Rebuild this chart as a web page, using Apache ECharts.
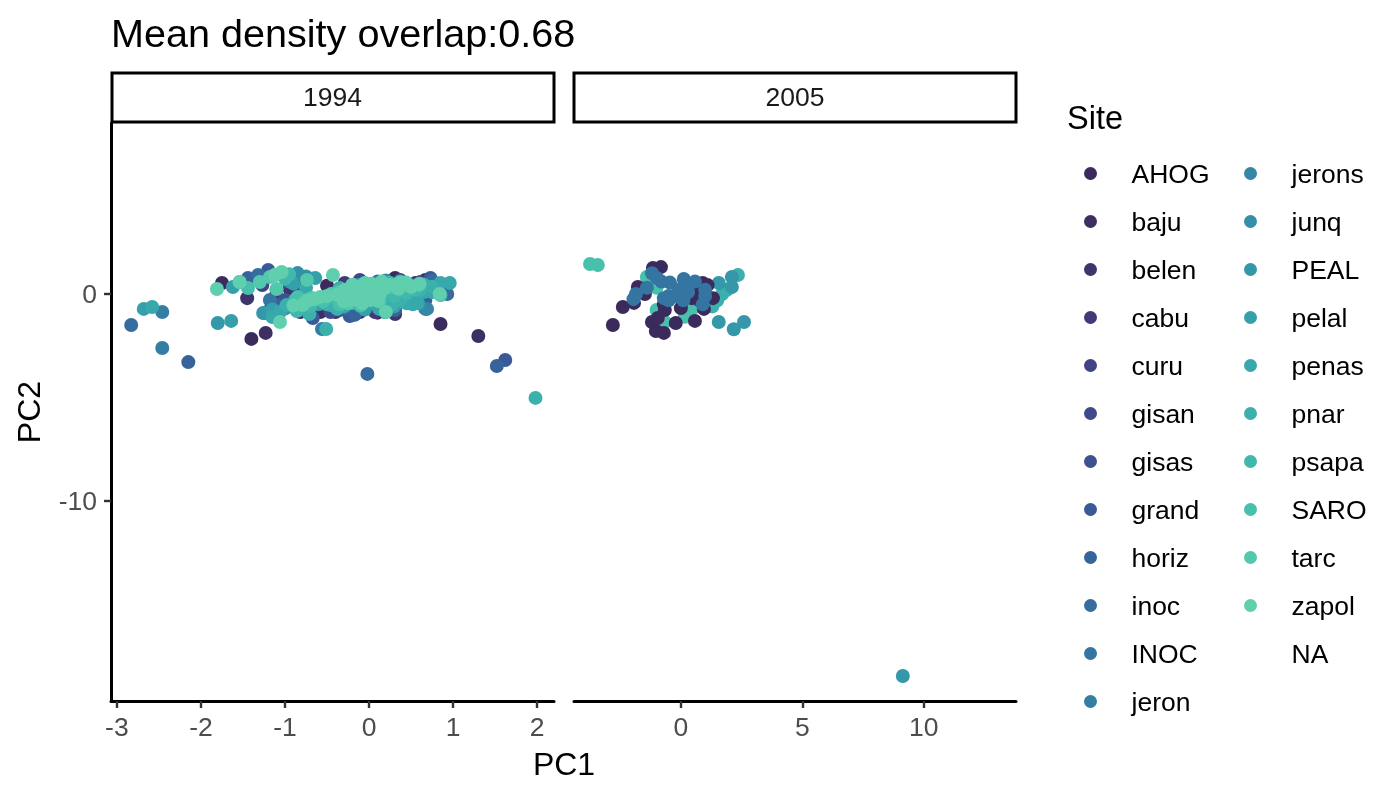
<!DOCTYPE html>
<html><head><meta charset="utf-8">
<script src="https://cdn.jsdelivr.net/npm/echarts@6/dist/echarts.min.js"></script>
<style>html,body{margin:0;padding:0;background:#fff}#c{width:1400px;height:800px}</style>
</head><body><div id="c"></div>
<script>
const sites = ['AHOG','baju','belen','cabu','curu','gisan','gisas','grand','horiz','inoc','INOC','jeron','jerons','junq','PEAL','pelal','penas','pnar','psapa','SARO','tarc','zapol','NA'];
const colors = ['#3b2b5c','#3d2f62','#3f346b','#413a77','#414386','#3f4a8c','#3c5291','#395a96','#37639b','#366c9e','#3575a1','#347ea3','#3487a5','#3490a8','#3498aa','#35a0ab','#37a8ac','#3bb0ad','#40b8ad','#47c0ad','#52c8ad','#60cfad','transparent'];
const xTicks1994 = [-3,-2,-1,0,1,2];
const xTicks2005 = [0,5,10];
const yTicks = [-10,0];
const panels = ['1994','2005'];

const AHOG_1994 = [[-1.75,.53],[-1.40,-2.17],[-1.1,.2],[-.94,.39],[-.23,-.77],[.31,.77],[.67,.68],[-.82,-.87],[.85,-1.45],[-1.18,-.77],[-.5,.4],[.1,-.9]];
const baju_1994 = [[1.30,-2.03],[-1.23,-1.88],[-.58,-.87],[-.11,-.87],[.19,.53],[-.82,.68]];
const belen_1994 = [[-1.45,-.2],[-.94,.2],[-.4,-.87],[.31,-.97],[.55,.53]];
const cabu_1994 = [[-1.11,-.1],[-.68,-.68],[-.29,.53],[.07,-.87]];
const curu_1994 = [[-1.27,.43],[-.76,-.29],[-.2,-1],[.61,.58]];
const gisan_1994 = [[-.79,.1],[-.46,-.87],[-.11,.68]];
const gisas_1994 = [[-1.32,.68],[-1.0,-.29],[-.35,-.77],[.37,.68]];
const grand_1994 = [[-1.2,1.16],[-.67,-1.16],[1.62,-3.19],[-.23,-1.06],[.73,.77],[.19,-.87]];
const horiz_1994 = [[-1.44,.77],[-1.1,-.53],[1.52,-3.48],[-2.15,-3.29],[-.17,-1.0],[.31,-.77],[.67,-.29]];
const inoc_1994 = [[-2.83,-1.5],[-.02,-3.86],[-1.32,.92],[-.82,-.77],[-.29,-.68],[.75,.63],[.93,0]];
const INOC_1994 = [[-1.18,-.29],[-.52,-.29],[-.05,-.29],[.49,-.05],[.1,.6]];
const jeron_1994 = [[-2.46,-.87],[-2.46,-2.61],[-.56,-1.69],[.67,-.72]];
const jerons_1994 = [[-1.24,-.92],[-.94,-.53],[-.23,-.29],[.69,-.72],[.25,.19]];
const junq_1994 = [[-.85,1.01],[-.46,-.29],[.01,-.05],[.43,.19],[-.17,.43],[.2,.65],[-.95,.6],[-.75,.85]];
const PEAL_1994 = [[-1.8,-1.4],[-1.26,-.92],[-.96,.77],[-.35,-.19],[.13,.43],[.55,-.29],[-.1,-.6],[.4,.55],[-1,-.7],[-.7,-.45],[.65,.3]];
const pelal_1994 = [[-2.68,-.72],[-1.62,.34],[-1.64,-1.3],[-.64,.77],[-.82,-.29],[-.29,-.05],[.25,-.29],[.73,.29],[-.6,-.5],[.05,.5],[.3,.1],[-.9,.5],[-1.15,-.75],[-.4,.05],[.2,.1],[.45,-.1],[.3,-.6],[-.05,-.75]];
const penas_1994 = [[-2.58,-.63],[-1.15,-1.11],[-1.06,-.87],[-.46,-.53],[-.11,.43],[.49,.43],[.5,-.43],[.85,.53],[.96,.53],[.4,-.3],[-.3,-.6],[.65,.1],[.15,-.6],[.58,-.45],[-.9,-.6],[-.75,.3],[-.2,-.45],[.35,.35],[.55,.15],[.75,.1],[.05,-.45],[.52,-.5],[.45,-.45],[.12,-.72]];
const pnar_1994 = [[1.98,-5.02],[-.71,-.97],[-.51,-1.69],[-.98,-.53],[-.35,.29],[.07,.19],[.61,.19],[.19,-.29],[.37,-.3],[-.6,-.2],[-.1,-.5],[.3,.4],[.75,.35],[-.85,-.45],[-.5,-.5],[.1,-.35],[.25,.05],[.48,.4],[.65,.45],[.28,-.5],[-.38,-.72]];
const psapa_1994 = [[-.88,-.29],[-.86,-.82],[-.23,.1],[.25,.53],[.85,-.05],[-1.54,.58],[-.17,-.39],[-1.0,.75],[-.95,.95],[.05,-.1],[-.45,-.2],[.45,.05],[-.7,-.6],[-.05,-.35],[.3,-.1],[.55,.2]];
const SARO_1994 = [[-1.44,.29],[-1.12,.92],[-.3,-.3],[.1,.15],[-.55,-.35],[.5,.3],[-.85,-.15],[-.12,.35],[.28,.3],[-.35,-.5],[-.1,-.55]];
const tarc_1994 = [[-.74,.68],[-1.3,.58],[-1.18,.82],[-1.1,.24],[-.68,-.19],[-.35,.1],[.6,.45],[-.1,.1],[.2,.3],[-.75,-.3],[-.45,.0],[-.2,.3],[.1,.4],[.12,-.35],[-.25,-.45]];
const zapol_1994 = [[-1.81,.24],[-1.54,.58],[-1.04,1.06],[-1.12,.92],[-.43,.92],[-1.06,-1.35],[-.79,-.53],[-.58,-.14],[-.38,-.05],[-.29,.19],[-.17,-.14],[-.05,.53],[.07,.29],[.2,-.87],[.25,.43],[.37,.58],[.6,.5],[.84,0],[-.23,-.29],[.01,-.29],[.13,0],[-.72,-.3],[-.1,.25],[.06,-.1],[.44,.55],[.15,.6],[-.5,-.1],[-.25,.05],[-.05,.2],[.18,.28],[.02,.5],[-.13,-.3],[.14,.25],[.5,.35],[-.9,-.55],[-.65,-.25],[-.3,-.35],[-.08,-.45],[-.2,.45],[.35,.25],[.1,-.3]];

const SARO_2005 = [[-3.74,1.45],[-3.42,1.4],[-1.4,.82],[-1,.3],[-1,-.77],[-.66,-1.35],[.16,-1.1],[.5,-.68]];
const pnar_2005 = [[2.35,.92],[1.7,.0],[1.5,-.3],[1.3,-.6],[1.9,.2]];
const PEAL_2005 = [[1.56,-1.35],[2.18,-1.7],[2.6,-1.35],[2.1,.82],[2.1,.34],[1.56,.53],[9.14,-18.45]];
const AHOG_2005 = [[-2.8,-1.5],[-2.39,-.63],[-1.93,-.43],[-1.77,.34],[-1.48,0],[-1.15,1.26],[-.82,1.3],[-1.19,-1.35],[-1.03,-1.79],[-.7,-1.88],[-.95,-1.16],[-.66,-.77],[-.21,-1.4],[.58,-1.3],[0,-.68],[.95,-.72],[1.32,-.2],[.45,-.2],[.9,.53],[.5,.25],[.75,.4],[1.1,.43],[.78,-.3],[.58,-.05],[-.7,-.5]];
const INOC_2005 = [[-1.19,1.0],[-.99,.77],[-.8,.6],[-1.4,.3],[-1.85,0],[-1.95,-.25],[-.45,.55],[.12,.73],[.58,.6],[.25,.3],[-.5,-.1],[-.7,-.2],[-.5,-.3],[-.2,-.1],[.05,-.05],[.1,-.3],[-.1,.2],[.3,.1],[1,.2],[.9,-.5],[1,-.1]];

const data1994 = [AHOG_1994,baju_1994,belen_1994,cabu_1994,curu_1994,gisan_1994,gisas_1994,grand_1994,horiz_1994,inoc_1994,INOC_1994,jeron_1994,jerons_1994,junq_1994,PEAL_1994,pelal_1994,penas_1994,pnar_1994,psapa_1994,SARO_1994,tarc_1994,zapol_1994,[]];
const draw2005 = [['SARO',SARO_2005],['pnar',pnar_2005],['PEAL',PEAL_2005],['AHOG',AHOG_2005],['INOC',INOC_2005]];

const FONT = '"Liberation Sans", Arial, sans-serif';
const series = [];
sites.forEach((s,i)=>series.push({name:s,type:'scatter',xAxisIndex:0,yAxisIndex:0,data:data1994[i],symbolSize:14,itemStyle:{color:colors[i],opacity:1},silent:true}));
draw2005.forEach(([s,d])=>series.push({name:s,type:'scatter',xAxisIndex:1,yAxisIndex:1,data:d,symbolSize:14,itemStyle:{color:colors[sites.indexOf(s)],opacity:1},silent:true}));

const yMin=-19.66,yMax=8.26;
const axisLine={show:true,onZero:false,lineStyle:{color:'#000',width:3}};
const axisTick=v=>({show:true,length:7,customValues:v,lineStyle:{color:'#333',width:2.4}});
const axisLabel=(v,m)=>({show:true,customValues:v,color:'#4d4d4d',fontSize:26.5,fontFamily:FONT,margin:m});
const yAxisLabel=(v,m)=>({show:true,customValues:v,margin:m,formatter:'{a|{value}}',
  rich:{a:{color:'#4d4d4d',fontSize:26.5,fontFamily:FONT,padding:[4,0,0,0]}}});

const legendBase={type:'plain',orient:'vertical',itemWidth:72,itemHeight:13,itemGap:17,icon:'circle',selectedMode:false,top:153,
  formatter:'{a|{name}}',
  textStyle:{fontSize:26.5,fontFamily:FONT,color:'#000',rich:{a:{fontSize:26.5,fontFamily:FONT,color:'#000',lineHeight:30,padding:[4,0,0,0]}}}};

const strip=(x)=>({type:'rect',shape:{x:x,y:73,width:442,height:49},style:{fill:'#fff',stroke:'#000',lineWidth:3}});

const option={
  animation:false,backgroundColor:'#fff',
  title:[
    {text:'Mean density overlap:0.68',left:111,top:16,textStyle:{fontSize:39.6,fontWeight:'normal',color:'#000',fontFamily:FONT},padding:0},
    {text:panels[0],left:332.5,top:85,textAlign:'center',textStyle:{fontSize:26.5,fontWeight:'normal',color:'#1a1a1a',fontFamily:FONT},padding:0},
    {text:panels[1],left:795,top:85,textAlign:'center',textStyle:{fontSize:26.5,fontWeight:'normal',color:'#1a1a1a',fontFamily:FONT},padding:0},
    {text:'PC1',left:564,top:750,textAlign:'center',textStyle:{fontSize:32,fontWeight:'normal',color:'#000',fontFamily:FONT},padding:0},
    {text:'Site',left:1067,top:104,textStyle:{fontSize:32.5,fontWeight:'normal',color:'#000',fontFamily:FONT},padding:0}
  ],
  grid:[
    {left:111,top:123,width:443,height:578,show:false},
    {left:574,top:123,width:442,height:578,show:false}
  ],
  xAxis:[
    {type:'value',gridIndex:0,min:-3.07,max:2.2,splitLine:{show:false},axisLine,axisTick:axisTick(xTicks1994),axisLabel:axisLabel(xTicks1994,14)},
    {type:'value',gridIndex:1,min:-4.4,max:13.8,splitLine:{show:false},axisLine,axisTick:axisTick(xTicks2005),axisLabel:axisLabel(xTicks2005,14)}
  ],
  yAxis:[
    {type:'value',gridIndex:0,min:yMin,max:yMax,splitLine:{show:false},axisLine,axisTick:axisTick(yTicks),axisLabel:yAxisLabel(yTicks,14),
     name:'PC2',nameLocation:'middle',nameGap:64,nameTextStyle:{fontSize:32,color:'#000',fontFamily:FONT}},
    {type:'value',gridIndex:1,min:yMin,max:yMax,show:false,splitLine:{show:false}}
  ],
  legend:[
    Object.assign({},legendBase,{left:1079,data:sites.slice(0,12)}),
    Object.assign({},legendBase,{left:1239,data:sites.slice(12)})
  ],
  graphic:[strip(112),strip(574)],
  series
};
const chart=echarts.init(document.getElementById('c'),null,{renderer:'canvas'});
chart.setOption(option);
</script></body></html>
